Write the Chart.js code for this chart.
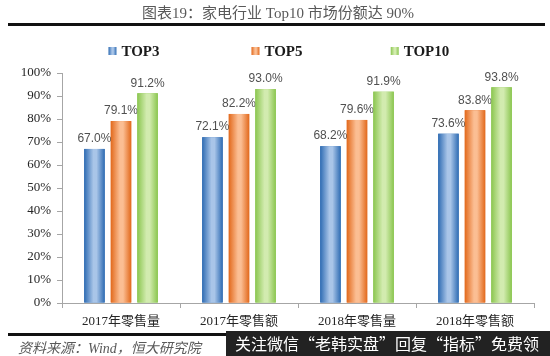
<!DOCTYPE html>
<html><head><meta charset="utf-8">
<script src="https://cdn.jsdelivr.net/npm/chart.js@4/dist/chart.umd.min.js"></script>
<style>
html,body{margin:0;padding:0;background:#fff;}
#wrap{position:relative;width:550px;height:356px;overflow:hidden;}
#title{position:absolute;left:0;top:1px;width:556px;text-align:center;font:15px "Liberation Serif","Noto Sans CJK SC",serif;color:#595959;}
.rule{position:absolute;left:8px;width:537px;height:3px;background:#111;}
#src{position:absolute;left:18px;top:337px;font:italic 14px "Liberation Serif","Noto Sans CJK SC",serif;color:#595959;}
#wm{position:absolute;left:226px;top:331px;width:324px;height:25px;background:#222;color:#fff;font:16px "Noto Sans CJK SC",sans-serif;line-height:25px;white-space:nowrap;padding-left:9px;box-sizing:border-box;}
canvas{position:absolute;left:0;top:0;}
</style></head>
<body>
<div id="wrap">
<canvas id="c" width="550" height="356"></canvas>
<div id="title">图表19：家电行业 Top10 市场份额达 90%</div>
<div class="rule" style="top:23px"></div>
<div class="rule" style="top:333px"></div>
<div id="src">资料来源：Wind，恒大研究院</div>
<div id="wm">关注微信“老韩实盘”回复“指标”免费领</div>
</div>
<script>
const categories = ['2017年零售量','2017年零售额','2018年零售量','2018年零售额'];
const seriesNames = ['TOP3','TOP5','TOP10'];
const top3 = [67.0, 72.1, 68.2, 73.6];
const top5 = [79.1, 82.2, 79.6, 83.8];
const top10 = [91.2, 93.0, 91.9, 93.8];
const yTickValues = [0,10,20,30,40,50,60,70,80,90,100];

const edgeColors = ['#2F6CB3', '#E2691C', '#8BC650'];
const lightColors = ['#A9C5E8', '#FBBE93', '#D2EBAF'];
const seriesValues = [top3, top5, top10];

function barGrad(ctx, left, w, i){
  const g = ctx.createLinearGradient(left, 0, left + w, 0);
  g.addColorStop(0, edgeColors[i]);
  g.addColorStop(0.45, lightColors[i]);
  g.addColorStop(0.6, lightColors[i]);
  g.addColorStop(1, edgeColors[i]);
  return g;
}

const barDecor = {
  id: 'barDecor',
  afterDatasetsDraw(chart){
    const ctx = chart.ctx;
    ctx.save();
    chart.data.datasets.forEach((ds, i) => {
      const meta = chart.getDatasetMeta(i);
      meta.data.forEach((el, j) => {
        const left = el.x - el.width / 2;
        ctx.fillStyle = barGrad(ctx, left, el.width, i);
        ctx.fillRect(left, el.y, el.width, el.base - el.y);
        ctx.fillStyle = '#505050';
        ctx.font = '12px "Liberation Sans", Arial, sans-serif';
        ctx.textAlign = 'center';
        ctx.textBaseline = 'bottom';
        ctx.fillText(ds.data[j].toFixed(1) + '%', el.x, el.y - 4);
      });
    });
    ctx.restore();
  }
};

const legendDraw = {
  id: 'legendDraw',
  afterDraw(chart){
    const ctx = chart.ctx;
    ctx.save();
    ctx.font = 'bold 15px "Liberation Serif", "Times New Roman", serif';
    ctx.textBaseline = 'middle';
    ctx.textAlign = 'left';
    const n = chart.data.datasets.length;
    chart.data.datasets.forEach((ds, i) => {
      const cx = chart.width / 2 + 2 + (i - (n - 1) / 2) * 143;
      const tw = ctx.measureText(ds.label).width;
      const w = 8 + 5 + tw;
      const x0 = cx - w / 2;
      const y = 51;
      ctx.fillStyle = barGrad(ctx, x0, 8, i);
      ctx.fillRect(x0, y - 4, 8, 8);
      ctx.fillStyle = '#1a1a1a';
      ctx.fillText(ds.label, x0 + 13, y + 1);
    });
    ctx.restore();
  }
};

const axisColor = '#a6a6a6';
new Chart(document.getElementById('c'), {
  type: 'bar',
  data: {
    labels: categories,
    datasets: seriesNames.map((name, i) => ({
      label: name,
      data: seriesValues[i],
      backgroundColor: edgeColors[i],
      borderWidth: 0,
      categoryPercentage: 0.675,
      barPercentage: 0.77
    }))
  },
  options: {
    responsive: false,
    animation: false,
    layout: { padding: { left: 0, right: 16, top: 73, bottom: 23 } },
    plugins: { legend: { display: false }, tooltip: { enabled: false }, title: { display: false } },
    scales: {
      x: {
        grid: { display: true, drawOnChartArea: false, drawTicks: true, tickLength: 5, color: axisColor, offset: true },
        border: { color: axisColor },
        ticks: { color: '#262626', padding: 6, font: { family: '"Liberation Serif", "Noto Sans CJK SC", serif', size: 13 } },
        afterFit: s => { s.height = 30; }
      },
      y: {
        min: 0, max: 100,
        afterBuildTicks: s => { s.ticks = yTickValues.map(v => ({ value: v })); },
        grid: { display: true, drawOnChartArea: false, drawTicks: true, tickLength: 5, color: axisColor },
        border: { color: axisColor },
        ticks: { color: '#262626', padding: 6, callback: v => v + '%', font: { family: '"Liberation Serif", "Times New Roman", serif', size: 13 } },
        afterFit: s => { s.width = 62; }
      }
    }
  },
  plugins: [barDecor, legendDraw]
});
</script>
</body></html>
